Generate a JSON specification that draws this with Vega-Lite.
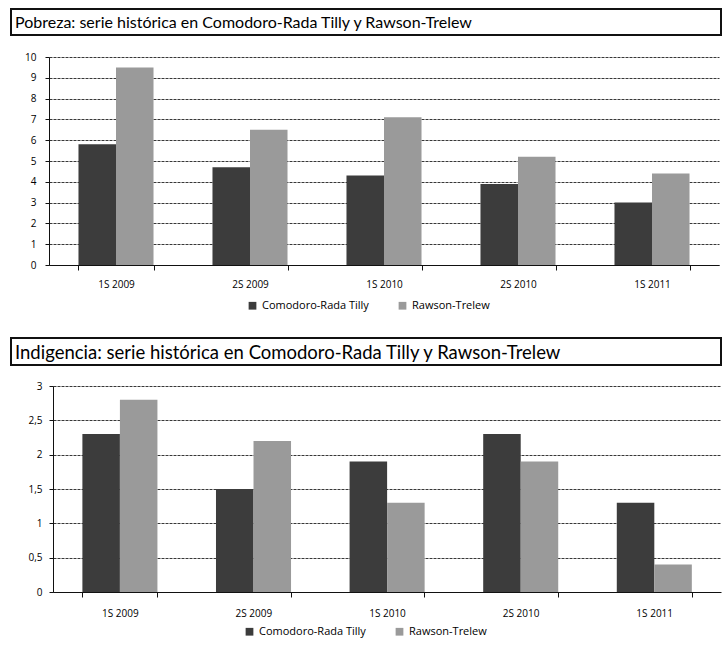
{
  "$schema": "https://vega.github.io/schema/vega-lite/v6.json",
  "padding": {"left": 10, "top": 8, "right": 3, "bottom": 5},
  "background": "white",
  "config": {
    "font": "Open Sans",
    "view": {"stroke": null},
    "axis": {"labelFont": "Open Sans", "labelFontSize": 10, "labelColor": "#000", "domainColor": "#111", "tickColor": "#111"},
    "legend": {"labelFont": "Open Sans", "labelFontSize": 11, "labelColor": "#000"}
  },
  "datasets": {
    "pob": [
      {"periodo": "1S 2009", "serie": "Comodoro-Rada Tilly", "valor": 5.8},
      {"periodo": "1S 2009", "serie": "Rawson-Trelew", "valor": 9.5},
      {"periodo": "2S 2009", "serie": "Comodoro-Rada Tilly", "valor": 4.7},
      {"periodo": "2S 2009", "serie": "Rawson-Trelew", "valor": 6.5},
      {"periodo": "1S 2010", "serie": "Comodoro-Rada Tilly", "valor": 4.3},
      {"periodo": "1S 2010", "serie": "Rawson-Trelew", "valor": 7.1},
      {"periodo": "2S 2010", "serie": "Comodoro-Rada Tilly", "valor": 3.9},
      {"periodo": "2S 2010", "serie": "Rawson-Trelew", "valor": 5.2},
      {"periodo": "1S 2011", "serie": "Comodoro-Rada Tilly", "valor": 3.0},
      {"periodo": "1S 2011", "serie": "Rawson-Trelew", "valor": 4.4}
    ],
    "ind": [
      {"periodo": "1S 2009", "serie": "Comodoro-Rada Tilly", "valor": 2.3},
      {"periodo": "1S 2009", "serie": "Rawson-Trelew", "valor": 2.8},
      {"periodo": "2S 2009", "serie": "Comodoro-Rada Tilly", "valor": 1.5},
      {"periodo": "2S 2009", "serie": "Rawson-Trelew", "valor": 2.2},
      {"periodo": "1S 2010", "serie": "Comodoro-Rada Tilly", "valor": 1.9},
      {"periodo": "1S 2010", "serie": "Rawson-Trelew", "valor": 1.3},
      {"periodo": "2S 2010", "serie": "Comodoro-Rada Tilly", "valor": 2.3},
      {"periodo": "2S 2010", "serie": "Rawson-Trelew", "valor": 1.9},
      {"periodo": "1S 2011", "serie": "Comodoro-Rada Tilly", "valor": 1.3},
      {"periodo": "1S 2011", "serie": "Rawson-Trelew", "valor": 0.4}
    ],
    "titulos": [
      {"t": "Pobreza: serie histórica en Comodoro-Rada Tilly y Rawson-Trelew", "pos": 0},
      {"t": "Indigencia: serie histórica en Comodoro-Rada Tilly y Rawson-Trelew", "pos": 0}
    ]
  },
  "columns": 1,
  "align": "none",
  "bounds": "full",
  "spacing": 26,
  "concat": [
    {
      "columns": 1,
      "align": "none",
      "bounds": "full",
      "spacing": 16,
      "concat": [
        {
          "width": 710, "height": 26,
          "view": {"stroke": "#111", "strokeWidth": 2},
          "data": {"name": "titulos"},
          "transform": [{"filter": "indexof(datum.t, 'Pobreza') === 0"}],
          "mark": {"type": "text", "align": "left", "baseline": "middle", "dx": 4, "dy": 1, "fontSize": 16, "font": "Lato", "color": "#000"},
          "encoding": {
            "x": {"field": "pos", "type": "quantitative", "scale": {"domain": [0, 1]}, "axis": null},
            "text": {"field": "t"}
          }
        },
        {
          "width": 708, "height": 208,
          "data": {"name": "pob"},
          "mark": {"type": "bar"},
          "encoding": {
            "x": {"field": "periodo", "type": "nominal", "sort": null, "title": null,
                  "scale": {"range": [38, 708], "paddingInner": 0.44, "paddingOuter": 0.22},
                  "axis": {"labelAngle": 0, "tickBand": "extent", "tickSize": 5, "labelPadding": 9, "grid": false}},
            "xOffset": {"field": "serie", "type": "nominal", "sort": ["Comodoro-Rada Tilly", "Rawson-Trelew"]},
            "y": {"field": "valor", "type": "quantitative", "title": null,
                  "scale": {"domain": [0, 10]},
                  "axis": {"values": [0,1,2,3,4,5,6,7,8,9,10], "offset": -38, "tickSize": 4, "labelPadding": 9, "gridColor": "#222", "gridDash": [3, 1], "gridOpacity": 0.9}},
            "color": {"field": "serie", "type": "nominal", "title": null,
                      "scale": {"domain": ["Comodoro-Rada Tilly", "Rawson-Trelew"], "range": ["#3c3c3c", "#9a9a9a"]},
                      "legend": {"orient": "none", "legendX": 236, "legendY": 291, "direction": "horizontal", "symbolType": "square", "symbolSize": 60, "columnPadding": 28}}
          }
        }
      ]
    },
    {
      "columns": 1,
      "align": "none",
      "bounds": "full",
      "spacing": 15,
      "concat": [
        {
          "width": 710, "height": 27,
          "view": {"stroke": "#111", "strokeWidth": 2},
          "data": {"name": "titulos"},
          "transform": [{"filter": "indexof(datum.t, 'Indigencia') === 0"}],
          "mark": {"type": "text", "align": "left", "baseline": "middle", "dx": 4, "dy": 1, "fontSize": 18.5, "font": "Lato", "color": "#000"},
          "encoding": {
            "x": {"field": "pos", "type": "quantitative", "scale": {"domain": [0, 1]}, "axis": null},
            "text": {"field": "t"}
          }
        },
        {
          "width": 710, "height": 206,
          "data": {"name": "ind"},
          "mark": {"type": "bar"},
          "encoding": {
            "x": {"field": "periodo", "type": "nominal", "sort": null, "title": null,
                  "scale": {"range": [42, 710], "paddingInner": 0.44, "paddingOuter": 0.22},
                  "axis": {"labelAngle": 0, "tickBand": "extent", "tickSize": 5, "labelPadding": 11, "grid": false}},
            "xOffset": {"field": "serie", "type": "nominal", "sort": ["Comodoro-Rada Tilly", "Rawson-Trelew"]},
            "y": {"field": "valor", "type": "quantitative", "title": null,
                  "scale": {"domain": [0, 3]},
                  "axis": {"values": [0, 0.5, 1, 1.5, 2, 2.5, 3], "labelExpr": "replace(toString(datum.value), '.', ',')", "offset": -42, "tickSize": 4, "labelPadding": 7, "gridColor": "#222", "gridDash": [3, 1], "gridOpacity": 0.9}},
            "color": {"field": "serie", "type": "nominal", "title": null,
                      "scale": {"domain": ["Comodoro-Rada Tilly", "Rawson-Trelew"], "range": ["#3c3c3c", "#9a9a9a"]},
                      "legend": {"orient": "none", "legendX": 233, "legendY": 288, "direction": "horizontal", "symbolType": "square", "symbolSize": 60, "columnPadding": 28}}
          }
        }
      ]
    }
  ],
  "resolve": {"legend": {"color": "independent"}}
}
